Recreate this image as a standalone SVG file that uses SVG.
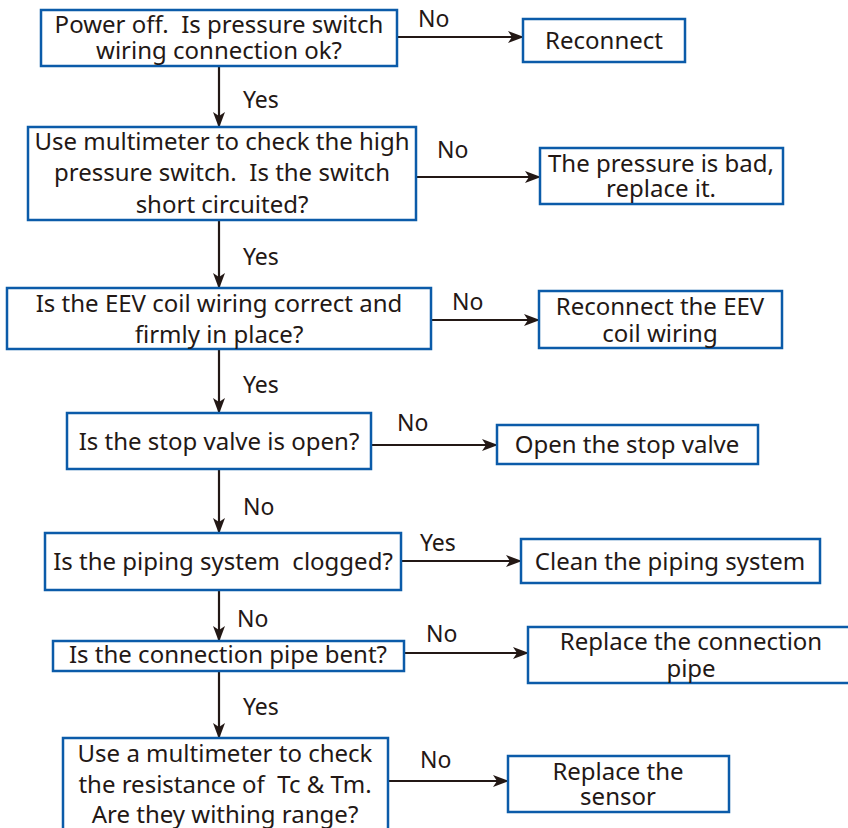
<svg xmlns="http://www.w3.org/2000/svg" width="848" height="828" viewBox="0 0 848 828">
<defs>
<style>
.box{fill:#fff;stroke:#0b5ba9;stroke-width:2.5}
.t{font-family:"Noto Sans","Liberation Sans",sans-serif;font-size:24px;fill:#231815;text-anchor:middle;white-space:pre}
.l{font-family:"Noto Sans","Liberation Sans",sans-serif;font-size:23px;fill:#231815}
.c{stroke:#231815;stroke-width:2.2;fill:none;marker-end:url(#ah)}
</style>
<marker id="ah" markerWidth="16" markerHeight="12" refX="15" refY="6" orient="auto" markerUnits="userSpaceOnUse">
<path d="M0,0 L16,6 L0,12 L4,6 Z" fill="#231815"/>
</marker>
</defs>
<rect width="848" height="828" fill="#fff"/>
<g id="connectors">
<path class="c" d="M397,37 H523"/>
<path class="c" d="M219,66 V127"/>
<path class="c" d="M416,177 H540"/>
<path class="c" d="M219,220 V288"/>
<path class="c" d="M431,320 H539"/>
<path class="c" d="M219,349 V413"/>
<path class="c" d="M371,445 H497"/>
<path class="c" d="M219,469 V533"/>
<path class="c" d="M401,561 H521"/>
<path class="c" d="M219,590 V641"/>
<path class="c" d="M404,653 H528"/>
<path class="c" d="M219,671 V738"/>
<path class="c" d="M388,781 H508"/>
<text class="l" x="418" y="27">No</text>
<text class="l" x="243" y="108">Yes</text>
<text class="l" x="437" y="158">No</text>
<text class="l" x="243" y="265">Yes</text>
<text class="l" x="452" y="310">No</text>
<text class="l" x="243" y="393">Yes</text>
<text class="l" x="397" y="431">No</text>
<text class="l" x="243" y="515">No</text>
<text class="l" x="420" y="551">Yes</text>
<text class="l" x="237" y="627">No</text>
<text class="l" x="426" y="642">No</text>
<text class="l" x="243" y="715">Yes</text>
<text class="l" x="420" y="768">No</text>
</g>
<g id="q1"><rect class="box" x="41" y="10" width="356" height="56"/>
<text class="t" x="219" y="33">Power off.  Is pressure switch</text>
<text class="t" x="219" y="59">wiring connection ok?</text></g>
<g id="a1"><rect class="box" x="523" y="19" width="162" height="43"/>
<text class="t" x="604" y="49">Reconnect</text></g>
<g id="q2"><rect class="box" x="28" y="127" width="388" height="93"/>
<text class="t" x="222" y="150">Use multimeter to check the high</text>
<text class="t" x="222" y="181">pressure switch.  Is the switch</text>
<text class="t" x="222" y="213">short circuited?</text></g>
<g id="a2"><rect class="box" x="540" y="148" width="243" height="56"/>
<text class="t" x="661" y="172">The pressure is bad,</text>
<text class="t" x="661" y="197">replace it.</text></g>
<g id="q3"><rect class="box" x="7" y="288" width="424" height="61"/>
<text class="t" x="219" y="312">Is the EEV coil wiring correct and</text>
<text class="t" x="219" y="343">firmly in place?</text></g>
<g id="a3"><rect class="box" x="539" y="291" width="243" height="57"/>
<text class="t" x="660" y="315">Reconnect the EEV</text>
<text class="t" x="660" y="342">coil wiring</text></g>
<g id="q4"><rect class="box" x="67" y="413" width="304" height="56"/>
<text class="t" x="219" y="450">Is the stop valve is open?</text></g>
<g id="a4"><rect class="box" x="497" y="425" width="261" height="39"/>
<text class="t" x="627" y="453">Open the stop valve</text></g>
<g id="q5"><rect class="box" x="45" y="533" width="356" height="57"/>
<text class="t" x="223" y="570">Is the piping system  clogged?</text></g>
<g id="a5"><rect class="box" x="521" y="539" width="299" height="44"/>
<text class="t" x="670" y="570">Clean the piping system</text></g>
<g id="q6"><rect class="box" x="53" y="641" width="351" height="30"/>
<text class="t" x="228" y="663">Is the connection pipe bent?</text></g>
<g id="a6"><rect class="box" x="528" y="627" width="322" height="56"/>
<text class="t" x="691" y="650">Replace the connection</text>
<text class="t" x="691" y="677">pipe</text></g>
<g id="q7"><rect class="box" x="63" y="738" width="325" height="100"/>
<text class="t" x="225" y="762">Use a multimeter to check</text>
<text class="t" x="225" y="793">the resistance of  Tc &amp; Tm.</text>
<text class="t" x="225" y="823">Are they withing range?</text></g>
<g id="a7"><rect class="box" x="508" y="756" width="221" height="56"/>
<text class="t" x="618" y="780">Replace the</text>
<text class="t" x="618" y="805">sensor</text></g>
</svg>
